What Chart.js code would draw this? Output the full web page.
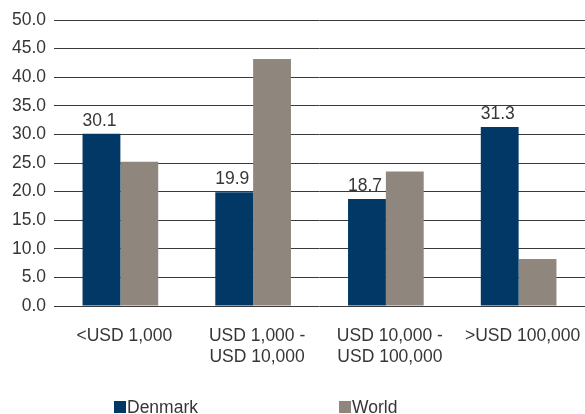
<!DOCTYPE html>
<html>
<head>
<meta charset="utf-8">
<script src="https://cdn.jsdelivr.net/npm/chart.js@4/dist/chart.umd.min.js"></script>
<style>
  html, body { margin: 0; padding: 0; background: #fff; }
  #wrap { width: 585px; height: 414px; position: relative; }
</style>
</head>
<body>
<div id="wrap"><canvas id="c"></canvas></div>
<script>
// Income bands (categories)
const categories = [
  '<USD 1,000',
  ['USD 1,000 -', 'USD 10,000'],
  ['USD 10,000 -', 'USD 100,000'],
  '>USD 100,000'
];
// Share of respondents per band, in percent
const denmark = [30.1, 19.9, 18.7, 31.3];
const world = [25.2, 43.2, 23.5, 8.2];
// Value axis ticks
const yTicks = [0, 5, 10, 15, 20, 25, 30, 35, 40, 45, 50];

const FONT = "'Liberation Sans', Arial, Helvetica, sans-serif";
const TEXT = '#363636';

// Writes the value above each bar of the datasets flagged with showValues
const valueLabels = {
  id: 'valueLabels',
  afterDatasetsDraw(chart) {
    const ctx = chart.ctx;
    ctx.save();
    ctx.font = '17.5px ' + FONT;
    ctx.fillStyle = TEXT;
    ctx.textAlign = 'center';
    ctx.textBaseline = 'alphabetic';
    chart.data.datasets.forEach((ds, i) => {
      if (!ds.showValues) return;
      chart.getDatasetMeta(i).data.forEach((bar, j) => {
        ctx.fillText(ds.data[j].toFixed(1), bar.x - 2, bar.y - 8);
      });
    });
    ctx.restore();
  }
};

// Legend row along the bottom edge
const bottomLegend = {
  id: 'bottomLegend',
  afterDraw(chart) {
    const ctx = chart.ctx;
    const starts = [114, 339];
    ctx.save();
    ctx.font = '17.5px ' + FONT;
    ctx.textBaseline = 'alphabetic';
    ctx.textAlign = 'left';
    chart.data.datasets.forEach((ds, i) => {
      const x = starts[i];
      ctx.fillStyle = ds.backgroundColor;
      ctx.fillRect(x, 401, 12, 12);
      ctx.fillStyle = TEXT;
      ctx.fillText(ds.label, x + 13, 413);
    });
    ctx.restore();
  }
};

new Chart(document.getElementById('c'), {
  type: 'bar',
  data: {
    labels: categories,
    datasets: [
      { label: 'Denmark', data: denmark, backgroundColor: '#023866', showValues: true },
      { label: 'World', data: world, backgroundColor: '#8f877e', showValues: false }
    ]
  },
  options: {
    responsive: true,
    maintainAspectRatio: false,
    animation: false,
    events: [],
    layout: { padding: { top: 20, right: 0, bottom: 0, left: 0 } },
    datasets: {
      bar: { categoryPercentage: 0.57, barPercentage: 1.0, borderWidth: 0 }
    },
    plugins: {
      legend: { display: false },
      tooltip: { enabled: false }
    },
    scales: {
      x: {
        grid: { display: false },
        border: { display: false },
        ticks: {
          color: TEXT,
          font: { family: FONT, size: 17.5, lineHeight: 1.2 },
          padding: 12,
          labelOffset: 4,
          maxRotation: 0,
          autoSkip: false
        },
        afterFit(scale) {
          scale.height = 108;
          scale.paddingLeft = 0;
          scale.paddingRight = 0;
        }
      },
      y: {
        min: 0,
        max: 50,
        afterBuildTicks(scale) { scale.ticks = yTicks.map(v => ({ value: v })); },
        grid: { color: '#3a3a3a', lineWidth: 1, drawTicks: false },
        border: { display: false },
        ticks: {
          color: TEXT,
          font: { family: FONT, size: 17.5 },
          padding: 8,
          callback: v => Number(v).toFixed(1)
        },
        afterFit(scale) { scale.width = 54; }
      }
    }
  },
  plugins: [valueLabels, bottomLegend]
});
</script>
</body>
</html>
